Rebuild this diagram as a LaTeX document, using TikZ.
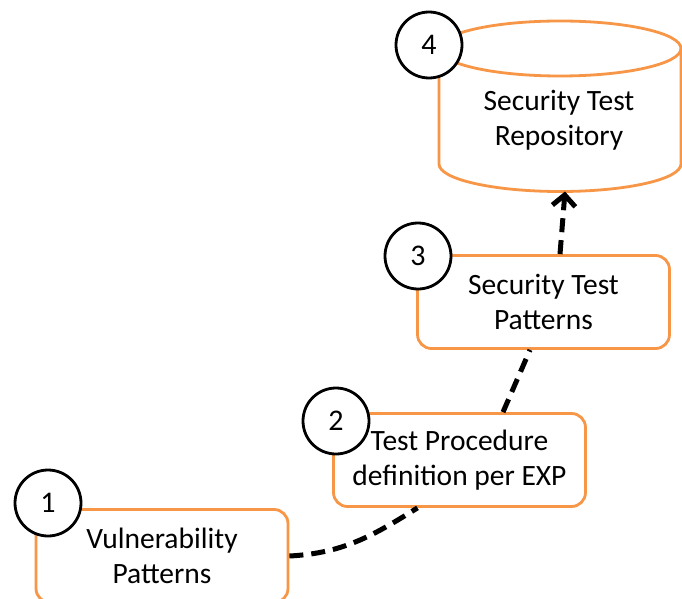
\documentclass[tikz,border=0pt]{standalone}
\usepackage{fontspec}
\setmainfont{Carlito}
\usetikzlibrary{arrows.meta, calc, positioning}
\definecolor{boxorange}{HTML}{F79646}

\begin{document}
\begin{tikzpicture}[x=1pt, y=1pt,
		box/.style={draw=boxorange, line width=2.8pt, rounded corners=14pt, fill=white,
			minimum width=252pt, minimum height=93pt, align=center, font=\fontsize{29.5}{35}\selectfont},
		numcirc/.style={circle, draw=black, line width=2.8pt, fill=white, minimum size=66pt,
			inner sep=0pt, font=\fontsize{30}{32}\selectfont},
		flow/.style={line width=5pt, dash pattern=on 14pt off 8pt}]
		\useasboundingbox (0,0) rectangle (682,-599);
		
		% Repository (cylinder)
		\draw[boxorange, line width=2.8pt, fill=white] (439,-48.5) -- (439,-164)
			arc[start angle=180, end angle=360, x radius=121, y radius=27.5] -- (681,-48.5);
		\draw[boxorange, line width=2.8pt] (560,-48.5) ellipse [x radius=121, y radius=27.5];
		\node[align=center, font=\fontsize{29.5}{35}\selectfont] (repo) at (559,-120) {Security Test\\Repository};
		\coordinate (repobot) at (565,-191.5);
		
		% Pattern boxes
		\node[box] (vuln) at (162,-556) {Vulnerability\\Patterns};
		\node[box] (proc) at (459.5,-460) {Test Procedure\\definition per EXP};
		\node[box] (stp) at (543.5,-302) {Security Test\\Patterns};
		
		% Connectors
		\draw[flow] (vuln.east) to[out=3, in=212] ([xshift=-42pt]proc.south);
		\draw[flow] ([xshift=43.5pt]proc.north) -- ([xshift=-13.5pt]stp.south);
		\draw[flow, -{Straight Barb[length=11pt, width=23pt]}] ([xshift=16.5pt]stp.north) -- (repobot);
		
		% Step numbers
		\foreach \n/\x/\y in {1/48/503, 2/336/421, 3/418/256, 4/429/45} {
			\node[numcirc] (c\n) at (\x,-\y) {\n};
		}
	\end{tikzpicture}
\end{document}
